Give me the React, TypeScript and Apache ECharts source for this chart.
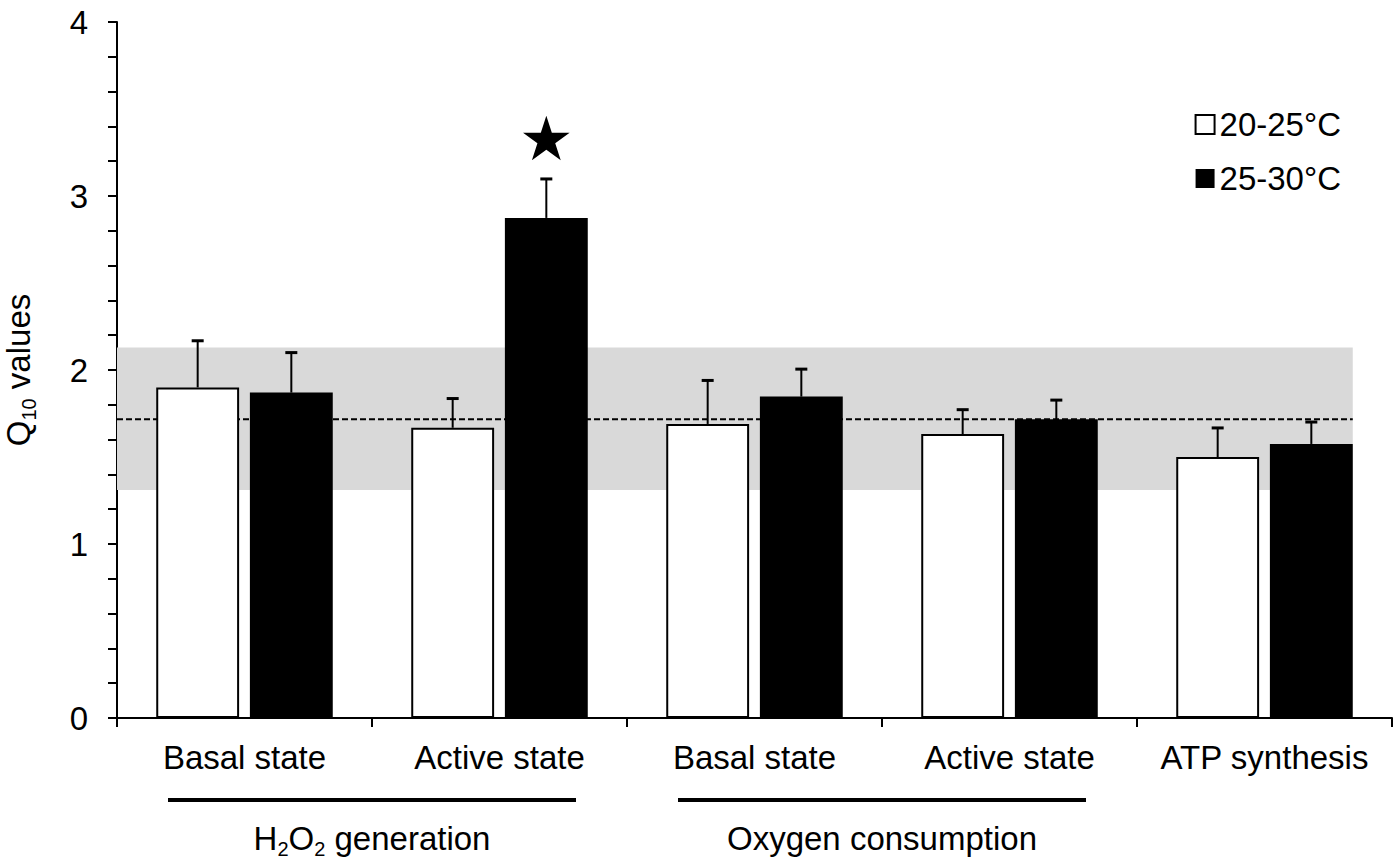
import React, { useEffect, useRef } from 'react';
import * as echarts from 'echarts';

// ---------- data ----------
const categories = ['Basal state', 'Active state', 'Basal state', 'Active state', 'ATP synthesis'];
const seriesNames = ['20-25°C', '25-30°C'];
const lowTemp = [1.9, 1.668, 1.69, 1.632, 1.5];
const lowTempErr = [0.268, 0.168, 0.25, 0.14, 0.167];
const highTemp = [1.87, 2.874, 1.847, 1.717, 1.575];
const highTempErr = [0.23, 0.224, 0.158, 0.11, 0.126];
const q10Band = [1.31, 2.13];
const q10Mean = [1.717];
// [category index, value, series index]
const starMarks = [[1, 3.32, 1]];
const groups = [
  { label: 'H{s|2}O{s|2} generation', from: 0, to: 1 },
  { label: 'Oxygen consumption', from: 2, to: 3 },
];
const yMin = 0;
const yMax = 4;
const yTickStep = 0.2;

// ---------- layout / style ----------
const FONT = "'Liberation Sans', Arial, Helvetica, sans-serif";
const FS = 33;
const SUB_FS = 20;
const BW_FRAC = 0.325;
const GAP_FRAC = 0.13;

function barOffset(bw: number, seriesIdx: number) {
  const off = (bw * BW_FRAC * (1 + GAP_FRAC)) / 2;
  return seriesIdx === 0 ? -off : off;
}

const subRich = {
  fontSize: SUB_FS,
  fontFamily: FONT,
  color: '#000',
  fill: '#000',
  verticalAlign: 'top',
  padding: [20, 0, 0, 0],
  lineHeight: 38,
};

export default function App() {
  const ref = useRef<HTMLDivElement>(null);

  useEffect(() => {
    document.body.style.margin = '0';
    if (!ref.current) return;
    const chart = echarts.init(ref.current, null, { renderer: 'svg' });

    const errData: number[][] = [];
    lowTemp.forEach((v, i) => errData.push([i, v, lowTempErr[i], 0]));
    highTemp.forEach((v, i) => errData.push([i, v, highTempErr[i], 1]));

    const option: any = {
      animation: false,
      backgroundColor: '#fff',
      textStyle: { fontFamily: FONT, color: '#000' },
      grid: {
        left: 117,
        right: 8,
        top: 22,
        bottom: 146,
        containLabel: false,
        outerBoundsMode: 'none',
      },
      legend: {
        orient: 'vertical',
        right: 54,
        top: 103,
        itemWidth: 19,
        itemHeight: 19,
        itemGap: 21,
        icon: 'rect',
        textStyle: { fontSize: FS, color: '#000', fontFamily: FONT },
        data: [
          { name: seriesNames[0], itemStyle: { color: '#fff', borderColor: '#000', borderWidth: 2 } },
          { name: seriesNames[1], itemStyle: { color: '#000', borderColor: '#000', borderWidth: 0 } },
        ],
      },
      xAxis: {
        type: 'category',
        data: categories,
        boundaryGap: true,
        axisLine: { show: true, lineStyle: { color: '#000', width: 2 } },
        axisTick: { show: true, length: 9, lineStyle: { color: '#000', width: 2 } },
        axisLabel: { fontSize: FS, color: '#000', margin: 23, fontFamily: FONT, interval: 0 },
        splitLine: { show: false },
      },
      yAxis: {
        type: 'value',
        min: yMin,
        max: yMax,
        interval: yTickStep,
        name: '{q|Q}{s|10}{q| values}',
        nameLocation: 'middle',
        nameRotate: 90,
        nameGap: 80,
        nameTextStyle: {
          rich: {
            q: { fontSize: FS, fontFamily: FONT, color: '#000', lineHeight: 38 },
            s: subRich,
          },
        },
        axisLine: { show: true, lineStyle: { color: '#000', width: 2 } },
        axisTick: { show: true, length: 9, lineStyle: { color: '#000', width: 2 } },
        axisLabel: {
          fontSize: FS,
          color: '#000',
          margin: 29,
          fontFamily: FONT,
          formatter: (v: number) => (Math.abs(v - Math.round(v)) < 1e-6 ? String(Math.round(v)) : ''),
        },
        splitLine: { show: false },
      },
      series: [
        {
          type: 'custom',
          name: 'band',
          z: 1,
          silent: true,
          encode: { x: 0, y: 1 },
          data: [[0, q10Band[0], q10Band[1], q10Mean[0]]],
          renderItem: (params: any, api: any) => {
            const bw = api.size([1, 0])[0];
            const left = params.coordSys.x;
            const lastIdx = categories.length - 1;
            const right = api.coord([lastIdx, 0])[0] + barOffset(bw, 1) + (bw * BW_FRAC) / 2;
            const yLow = api.coord([0, api.value(1)])[1];
            const yHigh = api.coord([0, api.value(2)])[1];
            const yMean = api.coord([0, api.value(3)])[1];
            return {
              type: 'group',
              children: [
                {
                  type: 'rect',
                  shape: { x: left, y: yHigh, width: right - left, height: yLow - yHigh },
                  style: { fill: '#d9d9d9' },
                },
                {
                  type: 'line',
                  shape: { x1: left, y1: yMean, x2: right, y2: yMean },
                  style: { stroke: '#000', lineWidth: 2, lineDash: [6, 3] },
                },
              ],
            };
          },
        },
        {
          type: 'bar',
          name: seriesNames[0],
          data: lowTemp,
          z: 2,
          barWidth: `${BW_FRAC * 100}%`,
          barGap: `${GAP_FRAC * 100}%`,
          itemStyle: { color: '#fff', borderColor: '#000', borderWidth: 2 },
        },
        {
          type: 'bar',
          name: seriesNames[1],
          data: highTemp,
          z: 2,
          barWidth: `${BW_FRAC * 100}%`,
          barGap: `${GAP_FRAC * 100}%`,
          itemStyle: { color: '#000', borderColor: '#000', borderWidth: 0 },
        },
        {
          type: 'custom',
          name: 'errors',
          z: 3,
          silent: true,
          encode: { x: 0, y: 1 },
          data: errData,
          renderItem: (params: any, api: any) => {
            const bw = api.size([1, 0])[0];
            const cat = api.value(0);
            const v = api.value(1);
            const e = api.value(2);
            const s = api.value(3);
            const base = api.coord([cat, v]);
            const top = api.coord([cat, v + e]);
            const x = base[0] + barOffset(bw, s);
            const cap = 6;
            return {
              type: 'group',
              children: [
                { type: 'line', shape: { x1: x, y1: base[1], x2: x, y2: top[1] }, style: { stroke: '#000', lineWidth: 2 } },
                { type: 'line', shape: { x1: x - cap, y1: top[1], x2: x + cap, y2: top[1] }, style: { stroke: '#000', lineWidth: 3 } },
              ],
            };
          },
        },
        {
          type: 'custom',
          name: 'stars',
          z: 3,
          silent: true,
          encode: { x: 0, y: 1 },
          data: starMarks,
          renderItem: (params: any, api: any) => {
            const bw = api.size([1, 0])[0];
            const c = api.coord([api.value(0), api.value(1)]);
            const cx = c[0] + barOffset(bw, api.value(2));
            const cy = c[1];
            const R = 24.5;
            const r = R * 0.382;
            const pts: number[][] = [];
            for (let k = 0; k < 10; k++) {
              const rad = k % 2 === 0 ? R : r;
              const ang = -Math.PI / 2 + (k * Math.PI) / 5;
              pts.push([cx + rad * Math.cos(ang), cy + rad * Math.sin(ang)]);
            }
            return { type: 'polygon', shape: { points: pts }, style: { fill: '#000' } };
          },
        },
        {
          type: 'custom',
          name: 'groups',
          z: 3,
          silent: true,
          clip: false,
          encode: { x: 0, y: 1 },
          data: groups.map((g, i) => [g.from, 0, g.to, i]),
          renderItem: (params: any, api: any) => {
            const bw = api.size([1, 0])[0];
            const p0 = api.coord([api.value(0), 0]);
            const p1 = api.coord([api.value(2), 0]);
            const x0 = p0[0] - 0.3 * bw;
            const x1 = p1[0] + 0.3 * bw;
            const yAxisPx = p0[1];
            const g = groups[api.value(3)];
            return {
              type: 'group',
              children: [
                {
                  type: 'line',
                  shape: { x1: x0, y1: yAxisPx + 82, x2: x1, y2: yAxisPx + 82 },
                  style: { stroke: '#000', lineWidth: 4 },
                },
                {
                  type: 'text',
                  x: (x0 + x1) / 2,
                  y: yAxisPx + 120,
                  style: {
                    text: g.label,
                    fill: '#000',
                    fontSize: FS,
                    fontFamily: FONT,
                    lineHeight: 38,
                    align: 'center',
                    verticalAlign: 'middle',
                    rich: {
                      s: subRich,
                    },
                  },
                },
              ],
            };
          },
        },
      ],
    };

    chart.setOption(option);
    return () => chart.dispose();
  }, []);

  return <div ref={ref} style={{ width: 1400, height: 864 }} />;
}
